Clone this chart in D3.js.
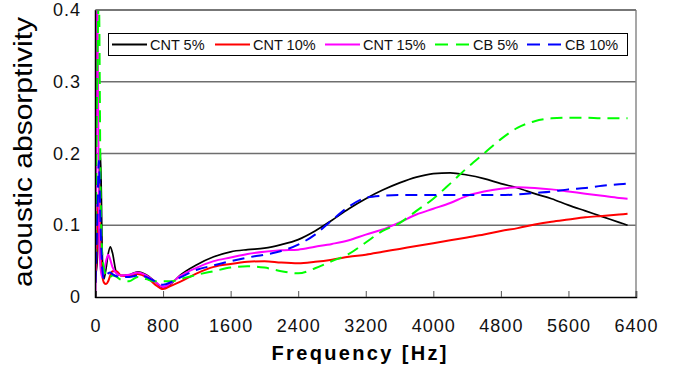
<!DOCTYPE html>
<html>
<head>
<meta charset="utf-8">
<script src="https://cdn.jsdelivr.net/npm/d3@7"></script>
<style>
  body { margin: 0; background: #fff; }
  svg { display: block; }
</style>
</head>
<body>
<div id="chart"></div>
<script>
// frequency grid [Hz] shared by all series
const freqs = [0, 20, 40, 60, 80, 100, 125, 150, 175, 200, 250, 300, 400, 500, 600, 700, 800, 900, 1000,
  1200, 1400, 1600, 1800, 2000, 2200, 2400, 2600, 2800, 3000, 3200, 3400, 3600, 3800, 4000,
  4200, 4400, 4600, 4800, 5000, 5200, 5400, 5600, 5800, 6000, 6200, 6300];

const cnt5 = [0.03, 0.05, 0.13, 0.2, 0.06, 0.025, 0.04, 0.06, 0.07, 0.062, 0.033, 0.03, 0.031, 0.035, 0.031, 0.022, 0.013, 0.019, 0.03,
  0.045, 0.056, 0.063, 0.066, 0.068, 0.073, 0.08, 0.092, 0.107, 0.123, 0.137, 0.149, 0.159, 0.167, 0.172,
  0.173, 0.17, 0.165, 0.158, 0.152, 0.144, 0.137, 0.128, 0.12, 0.112, 0.104, 0.1];

const cnt10 = [0.02, 0.08, 0.15, 0.06, 0.03, 0.02, 0.018, 0.022, 0.03, 0.036, 0.036, 0.03, 0.029, 0.032, 0.028, 0.018, 0.011, 0.016, 0.021,
  0.033, 0.042, 0.046, 0.049, 0.05, 0.048, 0.047, 0.049, 0.052, 0.056, 0.059, 0.063, 0.067, 0.071, 0.075,
  0.079, 0.083, 0.087, 0.092, 0.096, 0.101, 0.105, 0.108, 0.111, 0.113, 0.115, 0.116];

const cnt15 = [0, 0.45, 0.12, 0.04, 0.028, 0.035, 0.05, 0.059, 0.052, 0.042, 0.033, 0.03, 0.031, 0.034, 0.03, 0.022, 0.014, 0.02, 0.029,
  0.041, 0.05, 0.055, 0.06, 0.063, 0.065, 0.066, 0.07, 0.074, 0.079, 0.087, 0.094, 0.104, 0.115, 0.123,
  0.131, 0.141, 0.147, 0.151, 0.153, 0.152, 0.15, 0.147, 0.144, 0.141, 0.138, 0.137];

const cb5 = [0.05, 0.3, 0.42, 0.15, 0.06, 0.04, 0.03, 0.027, 0.028, 0.03, 0.028, 0.024, 0.022, 0.028, 0.025, 0.022, 0.022, 0.022, 0.025,
  0.031, 0.036, 0.041, 0.043, 0.041, 0.036, 0.033, 0.04, 0.05, 0.06, 0.076, 0.092, 0.103, 0.12, 0.137,
  0.158, 0.18, 0.2, 0.22, 0.236, 0.245, 0.249, 0.25, 0.25, 0.249, 0.249, 0.249];

const cb10 = [0.02, 0.1, 0.19, 0.1, 0.04, 0.025, 0.03, 0.033, 0.034, 0.032, 0.029, 0.028, 0.028, 0.03, 0.028, 0.022, 0.017, 0.021, 0.027,
  0.038, 0.044, 0.05, 0.055, 0.059, 0.064, 0.073, 0.087, 0.107, 0.126, 0.138, 0.141, 0.142, 0.142, 0.142,
  0.142, 0.142, 0.142, 0.142, 0.143, 0.145, 0.147, 0.15, 0.152, 0.155, 0.157, 0.158];

const seriesNames = ["CNT 5%", "CNT 10%", "CNT 15%", "CB 5%", "CB 10%"];
const seriesValues = [cnt5, cnt10, cnt15, cb5, cb10];
const xTicks = [0, 800, 1600, 2400, 3200, 4000, 4800, 5600, 6400];
const yTicks = [0, 0.1, 0.2, 0.3, 0.4];

// styling per series
const colors = ["#000000", "#ff0000", "#ff00ff", "#00ff00", "#0000ff"];
const dashes = [null, null, null, "12,7", "12,7"];

const width = 674, height = 381;
const margin = { top: 10, right: 38, bottom: 84, left: 95.5 };

const svg = d3.select("#chart").append("svg")
  .attr("width", width)
  .attr("height", height);

const x = d3.scaleLinear().domain([0, 6400]).range([margin.left, width - margin.right]);
const y = d3.scaleLinear().domain([0, 0.4]).range([height - margin.bottom, margin.top]);

const font = "'Liberation Sans', Arial, sans-serif";

// gridlines
svg.append("g")
  .selectAll("line")
  .data(yTicks.filter(d => d > 0))
  .join("line")
  .attr("x1", x(0)).attr("x2", x(6400))
  .attr("y1", d => y(d)).attr("y2", d => y(d))
  .attr("stroke", "#6e6e6e")
  .attr("stroke-width", 1.3);

// right border
svg.append("line")
  .attr("x1", x(6400)).attr("x2", x(6400))
  .attr("y1", y(0.4)).attr("y2", y(0))
  .attr("stroke", "#8a8a8a").attr("stroke-width", 1.5);

// clip curves to the plot area
svg.append("clipPath").attr("id", "plotClip")
  .append("rect")
  .attr("x", x(0)).attr("y", y(0.4))
  .attr("width", x(6400) - x(0)).attr("height", y(0) - y(0.4));

const line = d3.line()
  .x((d, i) => x(freqs[i]))
  .y(d => y(d))
  .curve(d3.curveMonotoneX);

svg.append("g")
  .attr("clip-path", "url(#plotClip)")
  .selectAll("path")
  .data(seriesValues)
  .join("path")
  .attr("d", d => line(d))
  .attr("fill", "none")
  .attr("stroke", (d, i) => colors[i])
  .attr("stroke-width", (d, i) => i === 0 ? 1.7 : 2)
  .attr("stroke-dasharray", (d, i) => dashes[i]);

// axes
const xAxis = d3.axisBottom(x).tickValues(xTicks).tickSize(-6).tickFormat("");
svg.append("g")
  .attr("transform", `translate(0, ${y(0)})`)
  .call(xAxis)
  .call(g => g.select(".domain").attr("stroke-width", 1.5))
  .call(g => g.selectAll(".tick line").attr("stroke", "#555"));

svg.append("line")
  .attr("x1", x(0)).attr("x2", x(0))
  .attr("y1", y(0.4)).attr("y2", y(0) + 1)
  .attr("stroke", "#000").attr("stroke-width", 1.5);

// top border
svg.append("line")
  .attr("x1", x(0)).attr("x2", x(6400))
  .attr("y1", y(0.4)).attr("y2", y(0.4))
  .attr("stroke", "#6e6e6e").attr("stroke-width", 1.3);

// tick labels
svg.append("g")
  .selectAll("text")
  .data(xTicks)
  .join("text")
  .attr("x", d => x(d) + 0.5)
  .attr("y", 332)
  .attr("text-anchor", "middle")
  .attr("font-family", font)
  .attr("font-size", 18)
  .attr("letter-spacing", 1)
  .attr("fill", "#111")
  .text(d => d);

svg.append("g")
  .selectAll("text")
  .data(yTicks)
  .join("text")
  .attr("x", 81)
  .attr("y", d => y(d) + 6)
  .attr("text-anchor", "end")
  .attr("font-family", font)
  .attr("font-size", 18)
  .attr("letter-spacing", 1)
  .attr("fill", "#111")
  .text(d => d === 0 ? "0" : d.toFixed(1));

// axis titles
svg.append("text")
  .attr("transform", `translate(32, 152) rotate(-90)`)
  .attr("text-anchor", "middle")
  .attr("font-family", font)
  .attr("font-size", 25)
  .attr("textLength", 270)
  .attr("lengthAdjust", "spacingAndGlyphs")
  .text("acoustic absorptivity");

svg.append("text")
  .attr("x", 359)
  .attr("y", 360)
  .attr("text-anchor", "middle")
  .attr("font-family", font)
  .attr("font-size", 20)
  .attr("font-weight", "bold")
  .attr("textLength", 175)
  .attr("lengthAdjust", "spacing")
  .text("Frequency  [Hz]");

// legend
const legend = svg.append("g");
legend.append("rect")
  .attr("x", 108.5).attr("y", 33.5)
  .attr("width", 519).attr("height", 22)
  .attr("fill", "#fff")
  .attr("stroke", "#000").attr("stroke-width", 1);

const legendX = [112, 215, 325, 435, 527];
const items = legend.selectAll("g.item")
  .data(seriesNames)
  .join("g")
  .attr("class", "item")
  .attr("transform", (d, i) => `translate(${legendX[i]}, 44.5)`);

items.append("line")
  .attr("x1", 0).attr("x2", 35)
  .attr("stroke", (d, i) => colors[i])
  .attr("stroke-width", 2)
  .attr("stroke-dasharray", (d, i) => dashes[i] ? "13,8" : null);

items.append("text")
  .attr("x", 38)
  .attr("y", 5)
  .attr("font-family", font)
  .attr("font-size", 14.5)
  .attr("fill", "#111")
  .text(d => d);
</script>
</body>
</html>
